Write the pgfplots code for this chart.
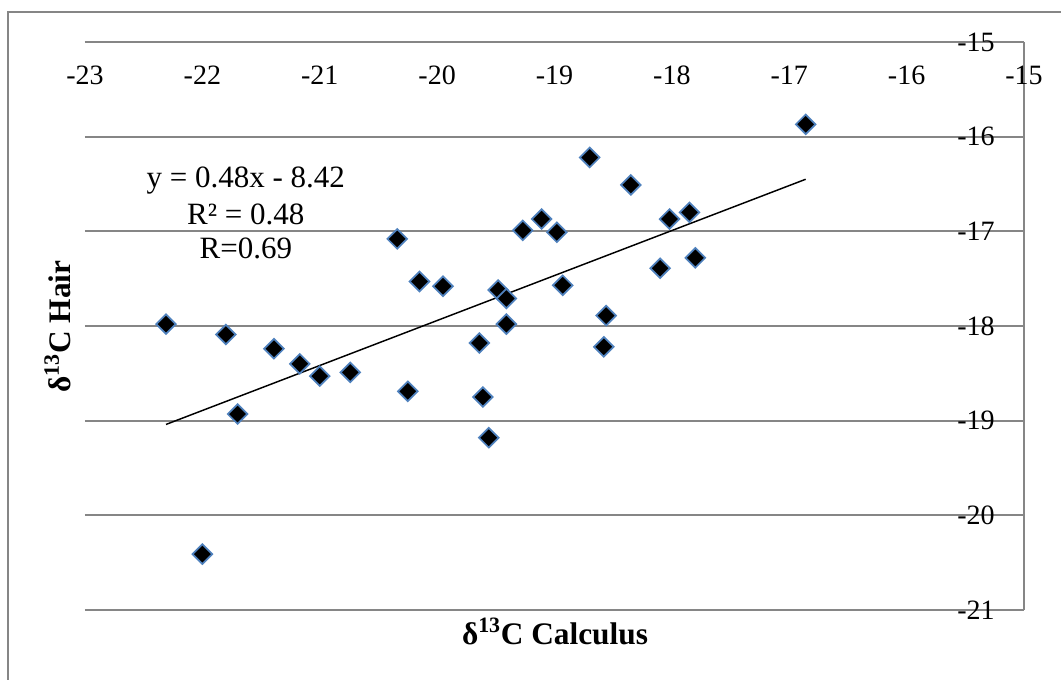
\documentclass[border=0pt]{standalone}
\usepackage{fontspec}
\setmainfont{Liberation Serif}
\usepackage{pgfplots}
\pgfplotsset{compat=1.18}
\definecolor{framegray}{RGB}{134,134,134}
\definecolor{markblue}{RGB}{79,129,189}
\begin{document}
\begin{tikzpicture}[x=0.75pt,y=0.75pt]
\begin{axis}[
  scale only axis, width=704.25pt, height=426pt,
  xmin=-23, xmax=-15, ymin=-21, ymax=-15,
  axis x line*=top, axis y line*=right,
  axis line style={framegray, line width=1.5pt},
  xtick={-23,-22,-21,-20,-19,-18,-17,-16,-15},
  ytick={-21,-20,-19,-18,-17,-16,-15},
  xticklabels={-23,-22,-21,-20,-19,-18,-17,-16,-15},
  yticklabels={-21,-20,-19,-18,-17,-16,-15},
  major tick length=0pt,
  ymajorgrids,
  major grid style={framegray, line width=1.5pt},
  tick label style={font=\fontsize{21}{25}\selectfont, inner sep=0pt},
  xticklabel style={anchor=base, yshift=-32.25pt},
  yticklabel style={anchor=east, xshift=-21.75pt},
  clip=false,
]
\coordinate (sw) at (rel axis cs:0,0);
% trend line
\addplot[black, line width=1.1pt] coordinates {(-22.31,-19.04) (-16.86,-16.45)};
% samples
\addplot[only marks, mark=square*, mark size=5.2pt,
  mark options={rotate=45, fill=black, draw=markblue, line width=1.3pt}]
  coordinates {
  (-16.86,-15.87) (-18.70,-16.22) (-18.35,-16.51) (-17.85,-16.80)
  (-18.02,-16.87) (-19.11,-16.87) (-19.27,-16.99) (-18.98,-17.01)
  (-17.80,-17.28) (-18.10,-17.39) (-18.93,-17.57) (-20.34,-17.08)
  (-20.15,-17.53) (-19.95,-17.58) (-19.48,-17.62) (-19.41,-17.71)
  (-19.41,-17.98) (-19.64,-18.18) (-19.61,-18.75) (-19.56,-19.18)
  (-20.25,-18.69) (-20.74,-18.49) (-21.00,-18.53) (-21.17,-18.40)
  (-21.39,-18.24) (-21.80,-18.09) (-22.31,-17.98) (-21.70,-18.93)
  (-22.00,-20.41) (-18.56,-17.89) (-18.58,-18.22)
  };
\begin{scope}[every node/.style={anchor=base, font=\fontsize{23.25}{28}\selectfont}]
\node at (axis cs:-21.63,-16.542) {y = 0.48x - 8.42};
\node at (axis cs:-21.63,-16.933) {R² = 0.48};
\node at (axis cs:-21.63,-17.292) {R=0.69};
\end{scope}
\end{axis}
\pgfresetboundingbox
\begin{scope}[shift={(sw)}, shift={(-85,-70)}]
\useasboundingbox (0,0) rectangle (1061,680);
% outer chart frame
\draw[framegray, line width=1.5pt] (8,-20) -- (8,668) -- (1100,668);
\node[anchor=base, font=\bfseries\fontsize{23.5}{28}\selectfont] at (555,35) {δ\textsuperscript{13}C Calculus};
\node[anchor=base, rotate=90, font=\bfseries\fontsize{23.5}{28}\selectfont] at (71,353.5) {δ\textsuperscript{13}C Hair};
\end{scope}
\end{tikzpicture}
\end{document}
